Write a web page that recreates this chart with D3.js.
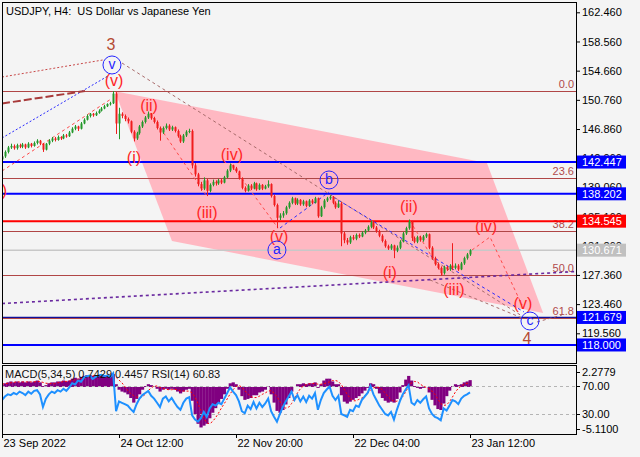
<!DOCTYPE html>
<html><head><meta charset="utf-8">
<script src="https://cdn.jsdelivr.net/npm/d3@7"></script>
<style>
html,body{margin:0;padding:0;background:#f4f4f4;}
svg{display:block;font-family:"Liberation Sans",Arial,sans-serif;}
</style></head><body>
<svg id="c" width="640" height="457"></svg>
<script>
// ---------------- DATA ----------------
const title = "USDJPY, H4:  US Dollar vs Japanese Yen";
const indicatorTitle = "MACD(5,34,5) 0.7429 0.4457 RSI(14) 60.83";
const xTickIndex = [0, 40, 80, 120, 160];
const xTickLabels = ["23 Sep 2022", "24 Oct 12:00", "22 Nov 20:00", "22 Dec 04:00", "23 Jan 12:00"];
const yTicks = [162.46,158.56,154.66,150.76,146.86,142.96,139.06,135.16,131.26,127.36,123.46,119.56];

const opens = [
142.8,143.2,143.8,144.4,144.6,144.3,144.7,144.5,144.8,144.4,
144.9,144.6,145.0,145.3,144.9,144.1,144.9,145.3,145.6,145.4,
145.8,145.6,146.0,145.9,146.4,146.9,147.2,146.9,147.6,148.1,
148.6,148.9,148.7,149.0,149.3,149.6,149.9,150.2,150.3,151.6,
147.6,148.9,148.6,148.2,147.9,146.5,145.6,146.3,147.2,147.8,
148.4,148.9,148.3,147.8,147.0,146.4,147.0,147.3,146.8,147.1,
146.6,145.9,145.2,146.0,146.5,146.6,142.0,140.8,139.5,138.9,
140.0,138.6,139.4,139.8,139.6,140.0,139.7,140.4,141.3,142.0,
141.6,141.2,140.3,139.0,138.6,139.3,138.9,139.6,138.8,139.4,
138.9,139.2,139.5,137.9,136.7,135.0,135.3,135.6,136.4,137.0,
137.6,136.9,137.4,136.8,137.2,136.6,137.3,137.0,137.6,135.2,
136.4,137.3,137.6,137.8,137.0,136.4,136.9,132.9,132.0,131.7,
132.4,132.2,132.7,132.5,133.0,133.3,133.8,134.4,133.7,133.2,
132.6,131.9,131.2,130.9,131.3,130.6,131.0,131.8,132.9,133.6,
134.5,132.3,131.8,132.4,132.0,132.5,132.8,131.0,129.6,128.8,
128.3,127.6,128.4,128.1,128.6,128.3,128.6,128.1,128.9,129.6,
130.1];
const highs = [
143.5,144.0,144.6,144.9,144.8,144.9,144.9,145.0,144.9,145.1,
145.0,145.2,145.5,145.4,145.0,145.0,145.5,145.8,145.8,146.0,
145.9,146.2,146.2,146.6,147.1,147.4,147.3,147.8,148.3,148.8,
149.0,149.0,149.2,149.5,149.8,150.1,150.3,150.5,151.94,151.8,
149.7,149.1,148.8,148.4,148.0,146.7,146.5,147.4,148.0,148.6,
149.2,149.0,148.5,148.0,147.2,147.2,147.6,147.5,147.3,147.2,
146.8,146.1,146.2,146.7,146.9,146.8,142.3,141.0,139.8,140.4,
140.2,139.6,140.1,140.0,140.2,140.2,140.6,141.5,142.25,142.1,
141.8,141.3,140.4,139.2,139.5,139.5,139.8,139.7,139.6,139.5,
139.4,140.0,139.6,138.1,136.9,135.6,135.9,136.6,137.2,137.8,
137.7,137.6,137.5,137.4,137.3,137.5,137.5,137.8,137.7,136.6,
137.5,137.8,138.0,137.9,137.2,137.3,137.1,133.1,132.3,132.6,
132.7,132.9,132.9,133.2,133.5,134.0,134.6,134.5,133.9,133.4,
132.8,132.1,131.4,131.5,131.4,131.3,132.0,133.1,133.8,134.77,
134.6,132.5,132.6,132.6,132.7,133.0,132.9,131.2,129.8,129.0,
128.5,128.6,128.6,128.8,131.6,128.9,128.8,129.1,129.8,130.3,
130.8];
const lows = [
142.3,143.0,143.6,144.2,144.1,144.1,144.3,144.3,144.2,144.3,
144.4,144.5,144.8,144.7,143.8,144.0,144.7,145.1,145.2,145.3,
145.4,145.5,145.7,145.8,146.3,146.7,146.6,146.8,147.5,148.0,
148.4,148.5,148.6,148.9,149.2,149.5,149.8,150.0,150.2,146.2,
145.5,148.3,147.9,147.6,146.3,145.2,145.4,146.1,147.0,147.6,
148.2,148.1,147.6,146.8,145.3,146.2,146.8,146.6,146.6,146.4,
145.7,145.0,145.0,145.8,146.3,141.6,140.5,139.2,138.6,138.7,
137.9,138.4,139.2,139.3,139.4,139.5,139.6,140.3,141.1,141.4,
141.0,140.1,138.8,138.4,138.5,138.7,138.8,138.6,138.7,138.7,
138.8,139.0,137.7,136.5,133.6,134.7,135.0,135.4,136.2,136.8,
136.7,136.7,136.6,136.6,136.4,136.5,136.8,136.9,135.0,135.1,
136.2,137.1,137.4,136.8,136.2,136.3,131.2,131.6,131.4,131.5,
132.0,132.0,132.3,132.4,132.8,133.2,133.6,133.5,133.0,132.4,
131.7,131.0,130.7,130.7,129.6,130.4,130.8,131.7,132.7,133.4,
131.9,131.6,131.6,131.8,131.8,132.3,130.8,129.4,128.6,128.1,
127.25,127.4,127.9,127.9,128.0,128.1,127.9,128.0,128.7,129.4,
129.9];
const closes = [
143.2,143.8,144.4,144.6,144.3,144.7,144.5,144.8,144.4,144.9,
144.6,145.0,145.3,144.9,144.1,144.9,145.3,145.6,145.4,145.8,
145.6,146.0,145.9,146.4,146.9,147.2,146.9,147.6,148.1,148.6,
148.9,148.7,149.0,149.3,149.6,149.9,150.2,150.3,151.6,147.6,
148.9,148.6,148.2,147.9,146.5,145.6,146.3,147.2,147.8,148.4,
148.9,148.3,147.8,147.0,146.4,147.0,147.3,146.8,147.1,146.6,
145.9,145.2,146.0,146.5,146.6,142.0,140.8,139.5,138.9,140.0,
138.6,139.4,139.8,139.6,140.0,139.7,140.4,141.3,142.0,141.6,
141.2,140.3,139.0,138.6,139.3,138.9,139.6,138.8,139.4,138.9,
139.2,139.5,137.9,136.7,135.0,135.3,135.6,136.4,137.0,137.6,
136.9,137.4,136.8,137.2,136.6,137.3,137.0,137.6,135.2,136.4,
137.3,137.6,137.8,137.0,136.4,136.9,132.9,132.0,131.7,132.4,
132.2,132.7,132.5,133.0,133.3,133.8,134.4,133.7,133.2,132.6,
131.9,131.2,130.9,131.3,130.6,131.0,131.8,132.9,133.6,134.5,
132.3,131.8,132.4,132.0,132.5,132.8,131.0,129.6,128.8,128.3,
127.6,128.4,128.1,128.6,128.3,128.6,128.1,128.9,129.6,130.1,
130.67];

const macdHist = [
0.2,0.4,0.5,0.6,0.5,0.6,0.5,0.6,0.5,0.6,
0.5,0.6,0.7,0.5,0.1,0.2,0.4,0.5,0.5,0.6,
0.6,0.7,0.6,0.7,0.9,1.0,0.9,1.1,1.2,1.3,
1.3,1.2,1.2,1.2,1.2,1.2,1.2,1.1,1.4,0.3,
-0.3,-0.5,-0.6,-0.8,-1.2,-1.7,-1.3,-0.8,-0.3,0.1,
0.3,0.2,0.1,-0.2,-0.5,-0.3,-0.2,-0.3,-0.2,-0.3,
-0.5,-0.7,-0.5,-0.3,-0.2,-1.5,-3.0,-4.0,-4.4,-4.2,
-4.0,-3.4,-2.8,-2.3,-1.8,-1.3,-0.8,-0.2,0.4,0.5,
0.3,-0.3,-1.0,-1.4,-1.3,-1.2,-0.9,-0.9,-0.6,-0.5,
-0.3,0.1,-0.8,-1.7,-2.6,-2.8,-2.5,-1.9,-1.2,-0.5,
0.0,0.3,0.3,0.4,0.3,0.4,0.4,0.5,-0.1,0.3,
0.7,0.9,0.9,0.6,0.3,0.3,-0.9,-1.6,-1.8,-1.6,
-1.4,-1.2,-1.0,-0.7,-0.4,-0.1,0.4,0.3,-0.2,-0.7,
-1.2,-1.5,-1.7,-1.6,-1.7,-1.3,-0.6,0.2,0.8,1.2,
0.7,0.1,-0.1,-0.2,-0.1,0.0,-0.6,-1.4,-2.0,-2.4,
-2.5,-1.8,-1.0,-0.4,0.1,0.3,0.2,0.3,0.5,0.6,
0.7429];
const macdSignal = [
0.3,0.35,0.4,0.45,0.5,0.55,0.55,0.55,0.55,0.55,
0.55,0.55,0.6,0.6,0.5,0.4,0.4,0.35,0.35,0.45,
0.5,0.6,0.6,0.65,0.7,0.8,0.85,0.9,1.0,1.1,
1.15,1.2,1.25,1.25,1.2,1.2,1.2,1.2,1.2,1.05,
0.75,0.45,0.05,-0.4,-0.7,-0.95,-1.1,-1.15,-1.05,-0.8,
-0.4,-0.1,0.1,0.1,-0.05,-0.15,-0.25,-0.3,-0.3,-0.25,
-0.3,-0.4,-0.45,-0.45,-0.45,-0.65,-1.1,-1.8,-2.6,-3.4,
-3.9,-4.0,-3.75,-3.35,-2.85,-2.3,-1.8,-1.3,-0.75,-0.3,
0.05,0.15,0.0,-0.4,-0.75,-1.05,-1.15,-1.15,-1.0,-0.8,
-0.65,-0.45,-0.4,-0.65,-1.05,-1.55,-2.1,-2.3,-2.2,-1.8,
-1.2,-0.65,-0.2,0.1,0.25,0.35,0.35,0.4,0.3,0.3,
0.35,0.45,0.55,0.7,0.7,0.6,0.25,-0.25,-0.8,-1.2,
-1.5,-1.5,-1.35,-1.2,-0.95,-0.7,-0.35,-0.1,0.0,-0.05,
-0.3,-0.65,-1.05,-1.35,-1.55,-1.55,-1.4,-1.05,-0.55,0.05,
0.45,0.6,0.55,0.3,0.1,-0.05,-0.2,-0.45,-0.8,-1.3,
-1.8,-2.0,-1.95,-1.6,-1.1,-0.55,-0.15,0.1,0.3,0.4,
0.4457];
const rsi = [
50,55,58,57,60,58,62,60,57,62,
59,63,64,58,40,52,58,62,60,64,
62,66,63,68,74,72,78,76,82,84,
85,80,83,85,86,84,85,83,88,34,
48,46,44,42,37,33,44,52,57,60,
63,56,52,46,40,52,55,48,53,46,
40,36,46,52,54,28,22,19,24,33,
26,38,44,42,46,44,52,60,68,62,
57,48,34,31,42,37,47,38,46,40,
45,52,34,26,19,30,40,48,55,62,
50,57,48,55,47,56,52,60,36,50,
60,65,69,56,50,56,30,28,26,36,
34,42,40,50,55,60,70,58,50,42,
36,30,28,33,22,36,48,58,65,71,
46,43,50,46,51,55,38,30,26,24,
21,38,35,42,50,48,44,52,56,58,
60.83];

const fibLevels = ["0.0", "23.6", "38.2", "50.0", "61.8"];
const fibPrices = [151.94, 140.35, 133.18, 127.39, 121.60];
const levelPrices = [142.447, 138.202, 134.545, 121.679, 118.000];
const currentPrice = 130.671;
const indAxisLabels = ["2.2779", "70.00", "30.00", "-5.1100"];

// annotation geometry in (bar index, price)
const channel = [[38.6,151.9],[165.8,142.32],[185.0,122.28],[58.1,131.9]];
const waveLines = [
  {pts:[[0,153.81],[34.53,156.09]], kind:"redDot"},
  {pts:[[0,145.66],[36.24,153.95]], kind:"blueDot"},
  {pts:[[0,141.25],[37.26,150.87]], kind:"redDash"},
  {pts:[[0,150.27],[28.38,151.94]], kind:"brownLong"},
  {pts:[[41.03,155.68],[177.78,121.87]], kind:"brownDot"},
  {pts:[[0,123.54],[196.24,127.82]], kind:"purpleDot"},
  {pts:[[95.04,133.63],[111.79,138.44]], kind:"blueDash"},
  {pts:[[113.16,137.78],[178.46,122.41]], kind:"blueDash"},
  {pts:[[50.6,149.0],[69.74,138.04]], kind:"redDash"},
  {pts:[[78.29,142.19],[94.36,133.63]], kind:"redDash"},
  {pts:[[139.49,134.57],[150.77,127.35]], kind:"redDash"},
  {pts:[[160.68,130.69],[166.84,132.43],[177.78,123.34]], kind:"redDash"},
  {pts:[[146.32,126.69],[177.78,121.61]], kind:"brownDot"},
  {pts:[[182.9,121.07],[191.45,122.01]], kind:"brownDot"}
];
const waveLabels = [
  {t:"3", i:37.26, p:158.22, kind:"brown"},
  {t:"v", i:37.6, p:155.42, kind:"circle"},
  {t:"(v)", i:38.3, p:153.41, kind:"red"},
  {t:"(ii)", i:50.26, p:150.07, kind:"red"},
  {t:"(i)", i:45.1, p:143.12, kind:"red"},
  {t:"(iv)", i:78.6, p:143.39, kind:"red"},
  {t:"(iii)", i:70.1, p:135.64, kind:"red"},
  {t:"(v)", i:94.7, p:132.56, kind:"red"},
  {t:"a", i:94.0, p:130.69, kind:"circle"},
  {t:"b", i:111.8, p:140.05, kind:"circle"},
  {t:"(ii)", i:139.1, p:136.44, kind:"red"},
  {t:"(iv)", i:165.5, p:133.77, kind:"red"},
  {t:"(i)", i:132.6, p:127.75, kind:"red"},
  {t:"(iii)", i:154.5, p:125.48, kind:"red"},
  {t:"(v)", i:178.1, p:123.48, kind:"red"},
  {t:"c", i:180.5, p:121.20, kind:"circle"},
  {t:"4", i:179.5, p:118.80, kind:"brown"},
  {t:"(iv)", i:1.7, p:138.71, kind:"redEnd"}
];

// ---------------- STYLES ----------------
const FONT = '"Liberation Sans", Arial, sans-serif';
const levelStyle = [
  {stroke:"#0000ff", w:2, box:"#0000ff"},
  {stroke:"#0000ff", w:2, box:"#0000ff"},
  {stroke:"#ff0000", w:2, box:"#ff0000"},
  {stroke:"#10109a", w:1.3, box:"#0000ff"},
  {stroke:"#0000ff", w:2, box:"#0000ff"}
];
const lineStyle = {
  redDot:   {stroke:"#c84848", w:1, dash:"2,2"},
  blueDot:  {stroke:"#2a2aff", w:1, dash:"2,2"},
  redDash:  {stroke:"#ff4a4a", w:1, dash:"3,3"},
  brownLong:{stroke:"#a83a3a", w:2, dash:"8,3"},
  brownDot: {stroke:"#a86a6a", w:1, dash:"3,3"},
  purpleDot:{stroke:"#6a2aa0", w:1.6, dash:"3,3"},
  blueDash: {stroke:"#2a2aff", w:1, dash:"3,3"}
};

// ---------------- LAYOUT ----------------
const L = 2, R = 576, mainTop = 2, mainBottom = 363, indTop = 365, indBottom = 434;
const svg = d3.select("#c");
svg.append("rect").attr("width",640).attr("height",457).attr("fill","#f4f4f4");

const x = d3.scaleLinear().domain([0,160]).range([2,470]);
const y = d3.scaleLinear().domain([119.56,162.46]).range([333.3,12.3]);
const yM = d3.scaleLinear().domain([-5.11,2.2779]).range([434,366]);
const yR = d3.scaleLinear().domain([0,100]).range([435,365]);

const defs = svg.append("defs");
defs.append("clipPath").attr("id","cm").append("rect")
  .attr("x",L).attr("y",mainTop).attr("width",R-L).attr("height",mainBottom-mainTop);
defs.append("clipPath").attr("id","ci").append("rect")
  .attr("x",L).attr("y",indTop).attr("width",R-L).attr("height",indBottom-indTop);

const gm = svg.append("g").attr("clip-path","url(#cm)");

// channel
gm.append("path")
  .attr("d", d3.line().x(d=>x(d[0])).y(d=>y(d[1]))(channel) + "Z")
  .attr("fill","#ffb8c2");

const crisp = v => Math.round(v) + 0.5;

// fib lines
fibPrices.forEach((p,k)=>{
  gm.append("line").attr("x1",L).attr("x2",R).attr("y1",crisp(y(p))).attr("y2",crisp(y(p)))
    .attr("stroke","#b04646").attr("stroke-width",1);
  gm.append("text").attr("x",R-2).attr("y",y(p)-3).attr("text-anchor","end")
    .attr("font-size",11).attr("fill","#b04a4a").attr("font-family",FONT).text(fibLevels[k]);
});

// current price line
gm.append("line").attr("x1",L).attr("x2",R).attr("y1",y(currentPrice)).attr("y2",y(currentPrice))
  .attr("stroke","#c8c8c8").attr("stroke-width",1.5);

// level lines
levelPrices.forEach((p,k)=>{
  gm.append("line").attr("x1",L).attr("x2",R).attr("y1",y(p)).attr("y2",y(p))
    .attr("stroke",levelStyle[k].stroke).attr("stroke-width",levelStyle[k].w);
});

// wave lines
const ln = d3.line().x(d=>x(d[0])).y(d=>y(d[1]));
waveLines.forEach(wl=>{
  const s = lineStyle[wl.kind];
  gm.append("path").attr("d",ln(wl.pts)).attr("fill","none")
    .attr("stroke",s.stroke).attr("stroke-width",s.w).attr("stroke-dasharray",s.dash);
});

// candles
const gc = gm.append("g");
closes.forEach((c,i)=>{
  const o = opens[i], up = c >= o;
  const col = up ? "#23982a" : "#f01c1c";
  const cx = Math.round(x(i));
  gc.append("line").attr("x1",cx+0.5).attr("x2",cx+0.5)
    .attr("y1",y(highs[i])).attr("y2",y(lows[i])).attr("stroke",col).attr("stroke-width",1);
  const top = y(Math.max(o,c)), bot = y(Math.min(o,c));
  gc.append("rect").attr("x",cx-0.5).attr("width",2).attr("y",top)
    .attr("height",Math.max(1,bot-top)).attr("fill",col);
});

// wave labels
waveLabels.forEach(lb=>{
  const px = x(lb.i), py = y(lb.p);
  if (lb.kind === "circle") {
    gm.append("circle").attr("cx",px).attr("cy",py).attr("r",9)
      .attr("fill","none").attr("stroke","#2424ff").attr("stroke-width",1);
    gm.append("text").attr("x",px).attr("y",py+4).attr("text-anchor","middle")
      .attr("font-size",14).attr("fill","#2424ff").attr("font-family",FONT).text(lb.t);
  } else {
    const col = lb.kind === "brown" ? "#b44a32" : "#ff2626";
    gm.append("text").attr("x",px).attr("y",py)
      .attr("text-anchor", lb.kind === "redEnd" ? "end" : "middle")
      .attr("dominant-baseline","central")
      .attr("font-size",16).attr("fill",col).attr("font-family",FONT).text(lb.t);
  }
});

// title
svg.append("text").attr("x",6).attr("y",15).attr("font-size",11).attr("font-family",FONT)
  .attr("fill","#000").style("white-space","pre").text(title);

// main frame
svg.append("rect").attr("x",L+0.5).attr("y",mainTop+0.5).attr("width",R-L).attr("height",mainBottom-mainTop)
  .attr("fill","none").attr("stroke","#000").attr("stroke-width",1);

// y axis
function axisStyle(g){
  g.attr("font-family",FONT).attr("font-size",11);
  g.select(".domain").remove();
  g.selectAll(".tick line").attr("stroke","#000");
  g.selectAll(".tick text").attr("fill","#000");
}
svg.append("g").attr("transform",`translate(${R},0)`)
  .call(d3.axisRight(y).tickValues(yTicks).tickFormat(d3.format(".3f")).tickSize(4).tickPadding(2))
  .call(axisStyle);

// price boxes
const boxes = levelPrices.map((p,k)=>({p, col:levelStyle[k].box}));
boxes.push({p:currentPrice, col:"#c0c0c0"});
boxes.forEach(b=>{
  const yy = y(b.p);
  svg.append("rect").attr("x",R+1).attr("y",yy-6.5).attr("width",49).attr("height",13).attr("fill",b.col);
  svg.append("text").attr("x",R+6).attr("y",yy).attr("dy","0.35em").attr("font-size",11)
    .attr("font-family",FONT).attr("fill","#fff").text(d3.format(".3f")(b.p));
});

// ---------------- INDICATOR ----------------
const gi = svg.append("g").attr("clip-path","url(#ci)");
const bw = x(1) - x(0);
macdHist.forEach((m,i)=>{
  const y0 = yM(0), y1 = yM(m);
  gi.append("rect").attr("x",x(i)-bw/2).attr("width",bw+0.3)
    .attr("y",Math.min(y0,y1)).attr("height",Math.abs(y1-y0)).attr("fill","#800080");
});
[70,30].forEach(v=>{
  gi.append("line").attr("x1",L).attr("x2",R).attr("y1",crisp(yR(v))).attr("y2",crisp(yR(v)))
    .attr("stroke","#b4b4b4").attr("stroke-width",1).attr("stroke-dasharray","3,3");
});
gi.append("path").datum(macdSignal)
  .attr("d",d3.line().x((d,i)=>x(i)).y(d=>yM(d)))
  .attr("fill","none").attr("stroke","#ff0000").attr("stroke-width",1).attr("stroke-dasharray","2,2");
gi.append("path").datum(rsi)
  .attr("d",d3.line().x((d,i)=>x(i)).y(d=>yR(d)))
  .attr("fill","none").attr("stroke","#1e90ff").attr("stroke-width",2);

svg.append("text").attr("x",5).attr("y",378).attr("font-size",11).attr("font-family",FONT)
  .attr("fill","#111").text(indicatorTitle);

svg.append("rect").attr("x",L+0.5).attr("y",indTop+0.5).attr("width",R-L).attr("height",indBottom-indTop)
  .attr("fill","none").attr("stroke","#000").attr("stroke-width",1);

// indicator axis labels
const indVals = [yM(2.2779), yR(70), yR(30), yM(-5.11)];
indAxisLabels.forEach((t,k)=>{
  const yy = Math.max(indTop+7, Math.min(indBottom-5, indVals[k]));
  svg.append("line").attr("x1",R).attr("x2",R+4).attr("y1",crisp(yy)).attr("y2",crisp(yy)).attr("stroke","#000");
  svg.append("text").attr("x",R+6).attr("y",yy).attr("dy","0.32em").attr("font-size",11)
    .attr("font-family",FONT).attr("fill","#000").text(t);
});

// x axis
const xa = svg.append("g").attr("transform",`translate(0,${indBottom})`)
  .call(d3.axisBottom(x).tickValues(xTickIndex).tickFormat((d,i)=>xTickLabels[i]).tickSize(4).tickPadding(1))
  .call(axisStyle);
xa.selectAll(".tick text").attr("text-anchor","start").attr("x",1);
</script>
</body></html>
